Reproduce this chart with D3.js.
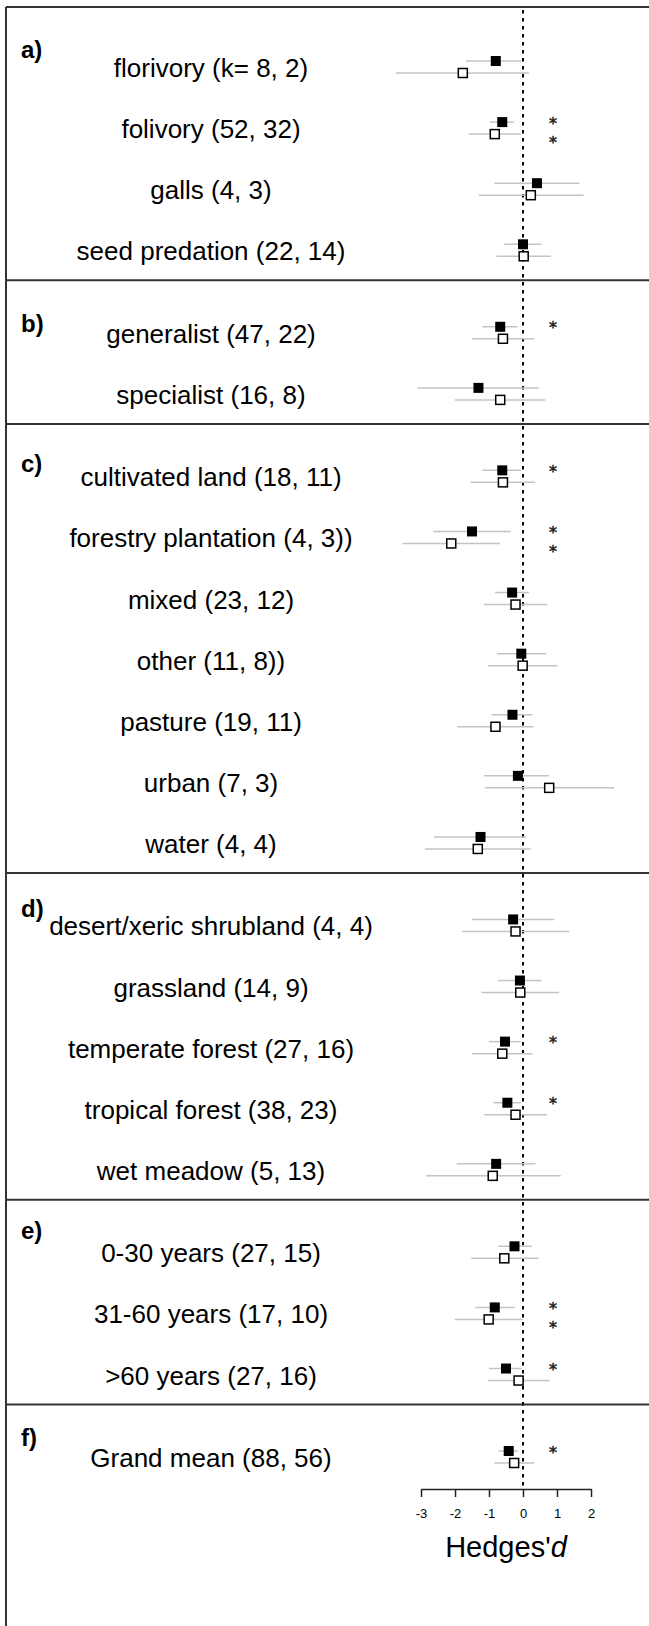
<!DOCTYPE html>
<html>
<head>
<meta charset="utf-8">
<script src="https://cdn.jsdelivr.net/npm/d3@7"></script>
<style>
  body { margin: 0; background: #fff; }
  text { font-family: "Liberation Sans", Arial, Helvetica, sans-serif; }
</style>
</head>
<body>
<svg id="chart"></svg>
<script>
// panel letters and which panel every row belongs to
const panels = ["a)", "b)", "c)", "d)", "e)", "f)"];
const labels = [
  "florivory (k= 8, 2)", "folivory (52, 32)", "galls (4, 3)", "seed predation (22, 14)",
  "generalist (47, 22)", "specialist (16, 8)",
  "cultivated land (18, 11)", "forestry plantation (4, 3))", "mixed (23, 12)", "other (11, 8))",
  "pasture (19, 11)", "urban (7, 3)", "water (4, 4)",
  "desert/xeric shrubland (4, 4)", "grassland (14, 9)", "temperate forest (27, 16)",
  "tropical forest (38, 23)", "wet meadow (5, 13)",
  "0-30 years (27, 15)", "31-60 years (17, 10)", ">60 years (27, 16)",
  "Grand mean (88, 56)"
];
const panelOf = [0,0,0,0, 1,1, 2,2,2,2,2,2,2, 3,3,3,3,3, 4,4,4, 5];

// filled squares (first estimate)
const filledMean = [-0.80,-0.61,0.41,0.00, -0.67,-1.31, -0.61,-1.50,-0.32,-0.05,-0.31,-0.15,-1.25, -0.29,-0.09,-0.53,-0.46,-0.79, -0.25,-0.83,-0.50, -0.42];
const filledLo   = [-1.68,-0.97,-0.84,-0.55, -1.20,-3.10, -1.20,-2.64,-0.82,-0.77,-0.93,-1.15,-2.62, -1.50,-0.74,-1.00,-0.87,-1.95, -0.73,-1.41,-1.00, -0.71];
const filledHi   = [-0.04,-0.26,1.66,0.54, -0.16,0.46, -0.06,-0.36,0.18,0.68,0.28,0.77,0.09, 0.92,0.55,-0.06,-0.06,0.37, 0.26,-0.24,-0.04, -0.16];
// open squares (second estimate)
const openMean = [-1.77,-0.83,0.23,0.02, -0.59,-0.67, -0.59,-2.11,-0.22,-0.01,-0.81,0.77,-1.33, -0.22,-0.08,-0.61,-0.22,-0.89, -0.55,-1.01,-0.13, -0.26];
const openLo   = [-3.74,-1.59,-1.30,-0.78, -1.50,-2.00, -1.54,-3.55,-1.15,-1.02,-1.94,-1.11,-2.88, -1.79,-1.22,-1.50,-1.14,-2.85, -1.52,-2.01,-1.04, -0.84];
const openHi   = [0.18,-0.06,1.78,0.82, 0.33,0.65, 0.36,-0.68,0.72,1.01,0.31,2.68,0.23, 1.36,1.06,0.28,0.71,1.11, 0.46,-0.01,0.79, 0.33];
// significance stars
const sigFilled = [0,1,0,0, 1,0, 1,1,0,0,0,0,0, 0,0,1,1,0, 0,1,1, 1];
const sigOpen   = [0,1,0,0, 0,0, 0,1,0,0,0,0,0, 0,0,0,0,0, 0,1,0, 0];
const tickValues = [-3, -2, -1, 0, 1, 2];

const W = 649, H = 1626;
const svg = d3.select("#chart").attr("width", W).attr("height", H);
svg.append("rect").attr("width", W).attr("height", H).attr("fill", "#fff");

const x = d3.scaleLinear().domain([-3, 2]).range([421, 591]);

// every row takes one slot, every new panel adds a bit of space
const gap = 0.35;
const slot = labels.map((d, i) => i + panelOf[i] * gap);
const y = d3.scaleLinear().domain([0, slot[slot.length - 1]]).range([67, 1457]);

const rows = labels.map((d, i) => ({
  label: d, panel: panelOf[i], yc: y(slot[i]),
  fm: filledMean[i], fl: filledLo[i], fh: filledHi[i],
  om: openMean[i], ol: openLo[i], oh: openHi[i],
  sf: sigFilled[i], so: sigOpen[i]
}));

const axisY = y(slot[slot.length - 1]) + 32;

// frame
svg.append("line").attr("x1", 6).attr("x2", W).attr("y1", 7).attr("y2", 7)
  .attr("stroke", "#333").attr("stroke-width", 2);
svg.append("line").attr("x1", 6).attr("x2", 6).attr("y1", 7).attr("y2", H)
  .attr("stroke", "#333").attr("stroke-width", 2);

// separators under each panel but the last
panels.slice(0, -1).forEach((p, k) => {
  const last = rows.filter(r => r.panel === k).pop();
  const sy = last.yc + 30;
  svg.append("line").attr("x1", 6).attr("x2", W).attr("y1", sy).attr("y2", sy)
    .attr("stroke", "#333").attr("stroke-width", 2);
});

// panel letters, a little above the first row of the panel
const letterShift = [-9, -1, -4, -8, -13, -11];
panels.forEach((p, k) => {
  const first = rows.find(r => r.panel === k);
  svg.append("text")
    .attr("x", 21).attr("y", first.yc + letterShift[k])
    .style("font-size", "24px").style("font-weight", "bold")
    .text(p);
});

// zero line
svg.append("line")
  .attr("x1", x(0)).attr("x2", x(0)).attr("y1", 10).attr("y2", axisY)
  .attr("stroke", "#000").attr("stroke-width", 2)
  .attr("stroke-dasharray", "3.5,4.5");

const g = svg.selectAll(".row").data(rows).enter().append("g").attr("class", "row");

g.append("text")
  .attr("x", 211).attr("y", d => d.yc + 10)
  .attr("text-anchor", "middle")
  .style("font-size", "26px")
  .text(d => d.label);

// confidence intervals
g.append("line")
  .attr("x1", d => x(d.fl)).attr("x2", d => x(d.fh))
  .attr("y1", d => d.yc - 6).attr("y2", d => d.yc - 6)
  .attr("stroke", "#c4c4c4").attr("stroke-width", 1.5);
g.append("line")
  .attr("x1", d => x(d.ol)).attr("x2", d => x(d.oh))
  .attr("y1", d => d.yc + 6).attr("y2", d => d.yc + 6)
  .attr("stroke", "#c4c4c4").attr("stroke-width", 1.5);

// means
g.append("rect")
  .attr("x", d => x(d.fm) - 5).attr("y", d => d.yc - 11)
  .attr("width", 10).attr("height", 10)
  .attr("fill", "#000");
g.append("rect")
  .attr("x", d => x(d.om) - 4.5).attr("y", d => d.yc + 1.5)
  .attr("width", 9).attr("height", 9)
  .attr("fill", "#fff").attr("stroke", "#000").attr("stroke-width", 1.5);

// stars
g.filter(d => d.sf).append("text")
  .attr("x", 553).attr("y", d => d.yc + 0.5)
  .attr("text-anchor", "middle")
  .style("font-family", "'DejaVu Sans', sans-serif").style("font-size", "16px")
  .attr("fill", "#222").attr("stroke", "#222").attr("stroke-width", 0.5)
  .text("*");
g.filter(d => d.so).append("text")
  .attr("x", 553).attr("y", d => d.yc + 19.5)
  .attr("text-anchor", "middle")
  .style("font-family", "'DejaVu Sans', sans-serif").style("font-size", "16px")
  .attr("fill", "#222").attr("stroke", "#222").attr("stroke-width", 0.5)
  .text("*");

// axis
const axis = svg.append("g")
  .attr("transform", `translate(0,${axisY})`)
  .call(d3.axisBottom(x).tickValues(tickValues).tickSize(8).tickSizeOuter(0)
    .tickPadding(12).tickFormat(d => String(d)));
axis.select(".domain").attr("stroke", "#222").attr("stroke-width", 1.5);
axis.selectAll(".tick line").attr("stroke", "#222").attr("stroke-width", 1.5);
axis.selectAll(".tick text").style("font-size", "13px")
  .style("font-family", "'Liberation Sans', Arial, sans-serif").attr("fill", "#000");

const xl = svg.append("text")
  .attr("x", (x(-3) + x(2)) / 2).attr("y", axisY + 68)
  .attr("text-anchor", "middle").style("font-size", "29px");
xl.append("tspan").text("Hedges'");
xl.append("tspan").style("font-style", "italic").text("d");
</script>
</body>
</html>
